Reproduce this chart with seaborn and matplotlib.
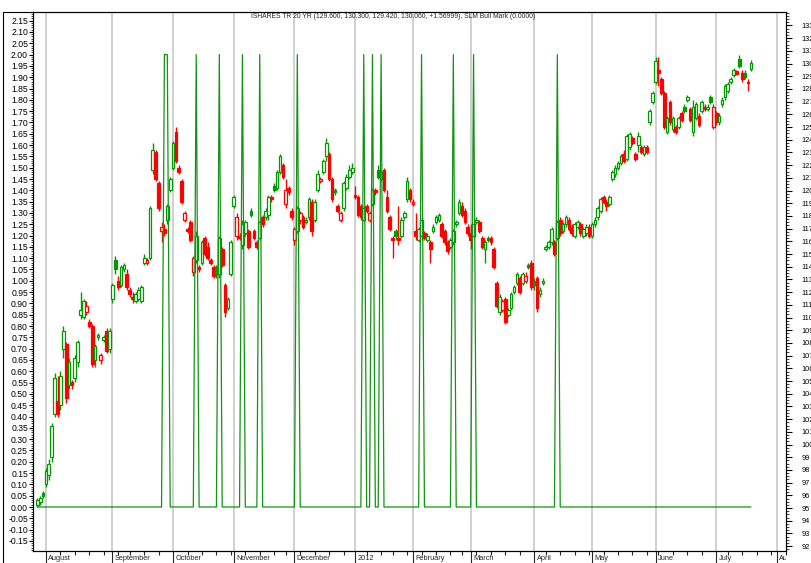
import numpy as np
import pandas as pd
import seaborn as sns
import matplotlib
matplotlib.use("Agg")
from matplotlib import pyplot as plt
from matplotlib.lines import Line2D
from matplotlib.ticker import MultipleLocator, FixedLocator
from matplotlib.transforms import blended_transform_factory, Bbox, TransformedBbox

# trading calendar of the chart (daily bars, no gaps)
first_day = "2011-07-27"
last_day = "2012-07-19"
axis_end = "2012-08-10"
holidays = ["2011-09-05", "2011-11-24", "2011-12-26", "2012-01-02", "2012-01-16",
            "2012-02-20", "2012-04-06", "2012-05-28", "2012-07-04"]

title = "ISHARES TR 20 YR (129.600, 130.300, 129.420, 130.060, +1.56999), SLM Bull Mark (0.0000)"
month_labels = ["August", "September", "October", "November", "December", "2012",
                "February", "March", "April", "May", "June", "July", "August"]

# daily prices
open_ = [
    95.27, 95.45, 96.16, 96.87, 97.58, 99.01, 102.39, 103.46, 103.10, 107.56,
    107.91, 104.71, 104.89, 105.24, 106.49, 110.23, 110.05, 110.41, 109.69, 109.34,
    106.67, 108.45, 106.67, 108.27, 108.98, 107.56, 111.48, 114.50, 112.90, 112.54,
    113.79, 113.43, 112.19, 111.65, 111.30, 111.48, 111.30, 114.32, 114.32, 114.68,
    121.63, 123.05, 120.56, 116.82, 117.00, 117.71, 120.02, 121.80, 124.65, 121.80,
    120.74, 117.71, 117.00, 117.53, 113.61, 114.50, 113.97, 114.32, 116.28, 115.57,
    114.50, 113.97, 113.97, 113.43, 115.39, 112.54, 110.76, 113.43, 118.78, 116.46,
    116.46, 115.75, 116.64, 116.82, 118.42, 116.82, 115.93, 116.28, 117.89, 117.89,
    118.06, 119.49, 120.38, 120.20, 121.45, 121.98, 118.96, 120.20, 118.42, 116.11,
    116.82, 117.71, 117.89, 117.53, 117.89, 119.13, 117.71, 120.02, 120.74, 121.45,
    122.70, 122.87, 120.91, 120.02, 118.78, 117.71, 118.60, 120.20, 121.09, 121.45,
    119.67, 119.49, 118.78, 117.71, 118.78, 117.71, 118.96, 120.02, 121.63, 120.91,
    121.63, 119.49, 117.89, 116.28, 116.82, 116.28, 116.46, 117.89, 119.31, 120.02,
    118.96, 116.82, 116.11, 116.46, 116.64, 116.11, 115.93, 116.82, 117.53, 117.71,
    117.35, 116.82, 115.93, 115.57, 115.93, 117.35, 118.24, 118.78, 118.42, 117.17,
    116.64, 116.46, 117.53, 117.53, 116.28, 115.39, 116.28, 116.28, 115.39, 112.72,
    110.41, 110.58, 111.48, 110.23, 110.76, 112.01, 112.72, 113.08, 112.72, 112.90,
    114.15, 114.32, 112.90, 113.08, 111.83, 112.72, 115.39, 115.57, 115.93, 115.93,
    116.28, 117.71, 116.82, 117.35, 117.71, 117.17, 116.46, 117.17, 117.35, 116.46,
    116.64, 117.17, 116.46, 117.35, 117.89, 118.42, 119.49, 119.13, 118.96, 120.91,
    121.27, 121.80, 122.16, 122.87, 122.52, 123.41, 124.12, 122.87, 123.59, 123.41,
    122.87, 123.41, 125.37, 126.97, 128.58, 129.46, 128.75, 127.68, 124.65, 126.97,
    124.83, 125.01, 125.01, 126.08, 126.61, 127.15, 126.44, 124.65, 125.72, 125.90,
    126.26, 126.61, 126.44, 127.33, 125.01, 126.08, 125.37, 126.79, 127.33, 127.86,
    128.58, 129.11, 129.40, 130.35, 129.29, 129.29, 128.58, 129.60,
]
high = [
    95.80, 95.98, 96.34, 98.12, 98.83, 101.68, 105.60, 105.42, 105.78, 109.34,
    108.09, 106.84, 105.06, 107.02, 108.27, 112.01, 111.48, 111.30, 109.87, 109.52,
    107.91, 108.80, 107.20, 108.63, 109.16, 109.16, 112.72, 114.86, 113.26, 114.15,
    114.32, 113.79, 112.37, 112.01, 112.01, 112.37, 112.54, 115.04, 114.68, 118.78,
    123.76, 123.23, 120.74, 117.53, 117.35, 118.96, 121.09, 123.94, 125.01, 121.98,
    120.91, 118.42, 117.17, 117.71, 114.86, 116.82, 114.15, 116.11, 116.46, 115.93,
    114.68, 114.15, 114.15, 116.46, 115.57, 112.72, 111.65, 116.11, 119.67, 118.24,
    116.64, 117.71, 117.71, 117.00, 118.60, 117.00, 116.11, 117.71, 118.06, 118.60,
    119.67, 119.67, 120.56, 121.63, 122.87, 122.16, 120.91, 120.38, 118.60, 117.17,
    118.78, 118.42, 118.06, 117.89, 119.49, 119.31, 119.31, 121.63, 121.09, 122.52,
    124.12, 123.05, 121.09, 120.20, 118.96, 118.42, 120.74, 121.27, 121.98, 122.16,
    120.38, 119.67, 118.96, 118.78, 118.96, 118.42, 120.20, 120.20, 121.98, 121.63,
    121.80, 120.02, 118.06, 116.46, 117.00, 118.78, 117.89, 118.42, 121.09, 120.20,
    119.31, 118.24, 117.17, 117.89, 116.82, 116.64, 116.11, 117.35, 118.06, 118.24,
    117.53, 117.00, 116.11, 116.28, 117.00, 117.71, 119.31, 119.13, 118.60, 117.35,
    117.35, 117.53, 117.89, 117.71, 116.46, 116.11, 116.46, 116.46, 115.57, 112.90,
    111.83, 111.48, 111.65, 110.76, 112.01, 112.54, 113.61, 113.26, 113.61, 113.61,
    114.32, 114.50, 113.08, 113.26, 112.37, 113.08, 115.75, 116.11, 117.17, 116.11,
    117.71, 117.89, 117.53, 118.06, 117.89, 117.35, 117.53, 117.71, 117.53, 117.17,
    117.35, 117.35, 117.53, 117.89, 118.78, 119.49, 119.67, 119.31, 119.67, 121.63,
    121.98, 122.34, 122.87, 123.23, 124.48, 124.65, 124.30, 123.05, 124.65, 123.59,
    123.59, 123.59, 126.44, 127.86, 130.53, 130.53, 128.93, 127.86, 125.90, 127.15,
    125.90, 125.19, 125.90, 126.26, 126.79, 127.50, 126.61, 127.15, 126.97, 126.08,
    127.15, 126.79, 126.79, 127.50, 126.79, 126.26, 126.08, 127.33, 128.40, 128.58,
    128.93, 129.64, 129.46, 130.71, 129.46, 129.46, 128.75, 130.30,
]
low = [
    95.09, 95.27, 95.80, 96.69, 97.23, 98.65, 102.21, 102.21, 102.75, 106.84,
    103.28, 104.35, 104.35, 104.89, 106.13, 109.87, 109.87, 110.23, 109.16, 106.13,
    106.13, 108.27, 106.31, 108.09, 107.20, 107.20, 111.12, 113.43, 112.19, 112.37,
    113.61, 112.19, 111.65, 111.12, 111.12, 111.30, 111.12, 114.15, 114.15, 114.50,
    121.27, 120.74, 118.42, 115.93, 116.46, 117.35, 119.85, 121.63, 122.16, 121.27,
    118.96, 117.53, 116.64, 115.93, 113.26, 114.32, 113.61, 114.15, 114.86, 114.50,
    114.15, 113.08, 113.08, 113.08, 113.97, 110.05, 110.58, 113.26, 118.60, 116.11,
    116.11, 115.39, 116.46, 115.39, 117.89, 116.11, 115.39, 116.11, 117.17, 117.71,
    117.71, 119.13, 119.85, 120.02, 121.27, 120.91, 118.60, 119.67, 117.71, 115.75,
    116.64, 117.35, 117.00, 117.35, 117.71, 116.46, 117.53, 119.85, 120.56, 121.27,
    122.34, 120.74, 119.13, 119.67, 118.24, 117.53, 118.42, 120.02, 120.91, 121.27,
    119.31, 117.89, 117.71, 117.53, 118.24, 117.53, 118.78, 119.67, 120.91, 120.74,
    119.85, 118.24, 116.82, 114.68, 116.11, 115.75, 116.28, 117.71, 119.13, 119.13,
    118.78, 116.11, 115.93, 116.11, 116.11, 115.93, 114.32, 116.64, 117.35, 117.53,
    116.28, 115.75, 115.04, 115.39, 115.75, 117.17, 118.06, 117.89, 117.35, 116.46,
    115.39, 116.28, 117.35, 116.64, 115.39, 114.32, 115.93, 115.75, 113.79, 110.76,
    110.23, 110.41, 109.52, 110.05, 110.58, 111.83, 112.54, 111.83, 112.54, 112.72,
    113.79, 112.19, 112.19, 110.41, 111.65, 112.54, 115.22, 115.39, 115.75, 114.86,
    116.11, 116.46, 116.64, 117.17, 116.82, 116.46, 116.28, 117.00, 116.46, 116.28,
    116.46, 116.28, 116.28, 117.17, 117.71, 118.24, 118.96, 118.42, 118.78, 120.74,
    121.09, 121.63, 121.98, 122.16, 122.34, 123.23, 123.59, 122.34, 123.05, 122.87,
    122.70, 122.87, 125.19, 126.79, 128.40, 128.22, 127.50, 124.83, 124.48, 125.19,
    124.65, 124.48, 124.83, 125.37, 126.08, 126.97, 125.37, 124.30, 125.54, 125.01,
    126.08, 126.26, 126.26, 126.79, 124.83, 125.19, 125.19, 126.61, 127.15, 127.68,
    128.40, 128.93, 129.11, 129.64, 128.58, 128.75, 127.86, 129.42,
]
close = [
    95.62, 95.80, 95.98, 97.94, 98.47, 101.50, 105.24, 102.39, 105.42, 108.98,
    103.64, 106.49, 104.71, 106.84, 108.09, 110.58, 111.30, 110.94, 109.34, 106.31,
    107.74, 108.63, 107.02, 108.45, 107.38, 108.98, 112.54, 113.79, 112.37, 113.97,
    114.15, 112.37, 111.83, 111.48, 111.83, 112.19, 112.37, 114.68, 114.50, 118.60,
    123.23, 120.91, 118.60, 117.17, 116.64, 118.78, 120.91, 123.76, 122.34, 121.45,
    119.13, 118.24, 116.82, 116.11, 114.68, 116.46, 113.79, 115.93, 115.04, 114.68,
    114.32, 113.26, 113.43, 116.28, 114.15, 110.41, 111.48, 115.93, 119.49, 117.89,
    116.28, 117.35, 117.53, 115.57, 118.06, 116.28, 115.57, 117.53, 117.35, 118.42,
    119.49, 119.31, 120.02, 121.45, 122.70, 121.09, 120.02, 119.85, 117.89, 117.00,
    118.60, 118.24, 117.17, 117.71, 119.31, 116.82, 119.13, 121.27, 120.91, 122.34,
    123.76, 120.91, 119.31, 119.85, 118.42, 118.24, 120.56, 121.09, 121.63, 121.80,
    119.49, 118.06, 117.89, 118.60, 118.42, 118.24, 120.02, 119.85, 121.09, 121.45,
    120.02, 118.42, 117.00, 116.11, 116.46, 116.11, 117.71, 118.24, 120.74, 119.31,
    119.13, 116.46, 117.00, 117.71, 116.28, 116.46, 115.39, 117.17, 117.89, 118.06,
    116.46, 115.93, 115.22, 116.11, 116.82, 117.53, 119.13, 118.06, 117.53, 116.64,
    116.11, 117.35, 117.71, 116.82, 115.57, 115.93, 116.11, 115.93, 113.97, 110.94,
    111.65, 111.30, 109.69, 110.58, 111.83, 112.37, 113.43, 112.01, 113.43, 113.26,
    113.97, 112.37, 112.54, 110.76, 112.19, 112.90, 115.57, 115.93, 117.00, 115.04,
    117.53, 116.64, 117.35, 117.89, 117.00, 116.64, 117.35, 117.53, 116.64, 117.00,
    117.17, 116.46, 117.35, 117.71, 118.60, 119.31, 119.13, 118.78, 119.49, 121.45,
    121.80, 122.16, 122.70, 122.34, 124.30, 124.48, 123.76, 122.52, 124.30, 123.05,
    123.41, 123.05, 126.26, 127.68, 130.18, 129.29, 127.68, 125.01, 125.72, 125.37,
    125.72, 124.65, 125.72, 125.54, 126.26, 127.33, 125.54, 126.61, 126.79, 125.19,
    126.97, 126.44, 126.61, 126.97, 126.61, 125.37, 125.90, 127.15, 128.22, 128.40,
    128.75, 129.46, 129.20, 129.82, 128.75, 128.93, 128.49, 130.06,
]

# SLM Bull Mark: days where the indicator sits at its upper level, 0 elsewhere
bull_dates = ["2011-09-28", "2011-09-29", "2011-10-13", "2011-10-25", "2011-11-04",
              "2011-11-14", "2011-12-02", "2012-01-06", "2012-01-11", "2012-01-17",
              "2012-02-06", "2012-02-22", "2012-03-02", "2012-04-13"]
bull_level = 2.0

GREEN = "#009a00"
RED = "#ff0000"
LINE_GREEN = "#139313"

hol = pd.to_datetime(holidays)
calendar = pd.bdate_range(first_day, axis_end)
calendar = calendar[~calendar.isin(hol)]
days = pd.bdate_range(first_day, last_day)
days = days[~days.isin(hol)]

df = pd.DataFrame({"date": days, "open": open_, "high": high, "low": low, "close": close})
df["pos"] = np.arange(len(df))
df["bull"] = np.where(df["date"].isin(pd.to_datetime(bull_dates)), bull_level, 0.0)

prev_close = df["close"].shift(1).fillna(df["open"])
df["color"] = np.where(df["close"] >= prev_close, GREEN, RED)
df["hollow"] = df["close"] > df["open"]

cal = pd.DataFrame({"date": calendar, "pos": np.arange(len(calendar))})
month_pos = cal.groupby([cal["date"].dt.year, cal["date"].dt.month])["pos"].first().values[1:]
new_week = cal["date"].dt.weekday.diff() < 0
week_pos = [p for p in cal.loc[new_week, "pos"] if p not in set(month_pos)]

sns.set_style("ticks")
plt.rcParams["font.family"] = ["Liberation Sans", "DejaVu Sans"]

W, H = 812, 563
fig = plt.figure(figsize=(W / 100, H / 100), dpi=100)
ax = fig.add_axes([33 / W, (H - 551) / H, (786 - 33) / W, (551 - 11.5) / H])
ax2 = ax.twinx()
ax.set_zorder(ax2.get_zorder() + 1)
ax.patch.set_visible(False)

# month grid lines
for p in month_pos:
    ax2.axvline(p, color="#cdcdcd", linewidth=1.3, zorder=0)

# candles
ax2.vlines(df["pos"], df["low"], df["high"], colors=df["color"], linewidth=1.0, zorder=2)
body_low = np.minimum(df["open"], df["close"])
body_h = np.maximum((df["close"] - df["open"]).abs(), 0.08)
face = np.where(df["hollow"], "white", df["color"])
ax2.bar(df["pos"], body_h, bottom=body_low, width=0.95, color=face,
        edgecolor=df["color"], linewidth=0.9, zorder=3)

# indicator
sns.lineplot(data=df, x="pos", y="bull", ax=ax, color=LINE_GREEN, linewidth=0.9, legend=False)

ax.set_xlim(-1.49, 259.15)
ax.set_ylim(-0.1945, 2.1905)
ax2.set_ylim(91.62, 134.10)
ax.set_xlabel("")
ax.set_ylabel("")
ax2.set_ylabel("")

left_ticks = np.round(np.arange(-0.15, 2.151, 0.05), 2)
ax.yaxis.set_major_locator(FixedLocator(left_ticks))
ax.set_yticklabels([f"{abs(v):.2f}" if abs(v) < 1e-9 else f"{v:.2f}" for v in left_ticks])
ax.yaxis.set_minor_locator(MultipleLocator(0.01))
ax.tick_params(axis="y", which="major", direction="out", length=3, width=0.8,
               pad=0.6, labelsize=6.2, colors="black")
ax.tick_params(axis="y", which="minor", direction="out", length=1.4, width=0.6)

right_ticks = np.arange(92, 134)
ax2.yaxis.set_major_locator(FixedLocator(right_ticks))
ax2.yaxis.set_minor_locator(MultipleLocator(0.25))
ax2.yaxis.set_major_formatter(lambda v, p: f"{v:.0f}")
ax2.tick_params(axis="y", which="major", direction="out", length=4, width=0.8,
                pad=7.2, labelsize=5.3, colors="black")
ax2.tick_params(axis="y", which="minor", direction="out", length=2, width=0.6)

ax.set_xticks(month_pos)
ax.xaxis.set_minor_locator(FixedLocator(week_pos))
ax.tick_params(axis="x", which="major", direction="out", length=9, width=0.8, labelbottom=False)
ax.tick_params(axis="x", which="minor", direction="out", length=2.7, width=0.8)

for a in (ax, ax2):
    for s in a.spines.values():
        s.set_color("black")
        s.set_linewidth(0.8)

# month names to the right of each month line, clipped at the right spine
trans = blended_transform_factory(ax.transData, ax.transAxes)
clip = TransformedBbox(Bbox([[0, 0], [786 / W, 1]]), fig.transFigure)
for p, name in zip(month_pos, month_labels):
    t = ax.text(p + 0.8, -0.0075, name, transform=trans, fontsize=5.3,
                ha="left", va="top", clip_on=True)
    t.set_clip_box(clip)

# outer panel frame
fig.add_artist(Line2D([3 / W, 3 / W, 33 / W], [0, (H - 11.5) / H, (H - 11.5) / H],
                      transform=fig.transFigure, color="black", linewidth=0.8))

fig.text(393 / W, 1 - 16.7 / H, title, ha="center", va="center", fontsize=4.9)

fig.savefig("out.png", dpi=100)
